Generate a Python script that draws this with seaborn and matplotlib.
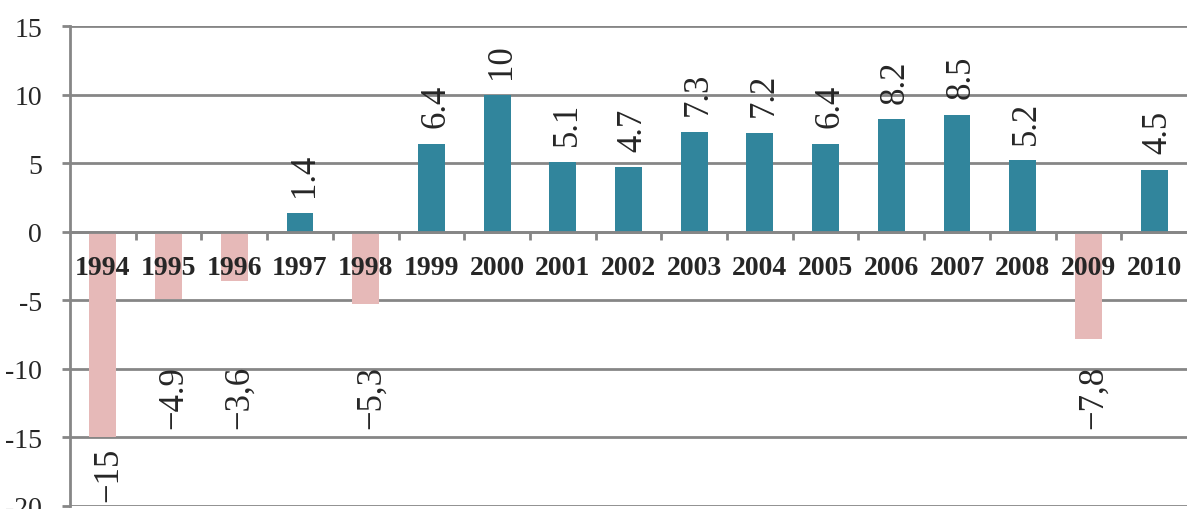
import numpy as np
import pandas as pd
import matplotlib
matplotlib.use("Agg")
import matplotlib.pyplot as plt
import seaborn as sns

years = ["1994", "1995", "1996", "1997", "1998", "1999", "2000", "2001", "2002",
         "2003", "2004", "2005", "2006", "2007", "2008", "2009", "2010"]
growth = [-15, -4.9, -3.6, 1.4, -5.3, 6.4, 10, 5.1, 4.7, 7.3, 7.2, 6.4, 8.2, 8.5, 5.2, -7.8, 4.5]
value_labels = ["\u221215", "\u22124.9", "\u22123,6", "1.4", "\u22125,3", "6.4", "10", "5.1", "4.7",
                "7.3", "7.2", "6.4", "8.2", "8.5", "5.2", "\u22127,8", "4.5"]
y_ticks = [-20, -15, -10, -5, 0, 5, 10, 15]

df = pd.DataFrame({"year": years, "growth": growth})
df["sign"] = np.where(df["growth"] >= 0, "pos", "neg")

sns.set_style("white")
plt.rcParams["font.family"] = ["Liberation Serif", "DejaVu Serif"]

grid_col = "#868686"
fig = plt.figure(figsize=(11.87, 5.10), dpi=100)
ax = fig.add_axes([70 / 1187, 1 - 507 / 510, 1 - 70 / 1187, 480 / 510])

# gridlines drawn behind the bars, axis (tick labels) drawn above them
for t in y_ticks:
    ax.axhline(t, color=grid_col, linewidth=2, zorder=0.5)

sns.barplot(data=df, x="year", y="growth", hue="sign", dodge=False, width=0.41,
            palette={"pos": "#31859C", "neg": "#E6B9B8"}, legend=False, ax=ax,
            zorder=1, saturation=1, linewidth=0)

ax.set_axisbelow(False)
ax.set_ylim(-20, 15)
ax.set_xlim(-0.5, len(years) - 0.5)
ax.set_yticks(y_ticks)
ax.set_yticklabels([str(t) for t in y_ticks], fontsize=20)
ax.grid(False)
ax.set_xlabel("")
ax.set_ylabel("")

for side in ["top", "right"]:
    ax.spines[side].set_visible(False)
ax.spines["left"].set_color(grid_col)
ax.spines["left"].set_linewidth(2)
ax.spines["bottom"].set_position(("data", 0))
ax.spines["bottom"].set_color(grid_col)
ax.spines["bottom"].set_linewidth(2)

ax.tick_params(axis="y", left=True, length=6, width=2, color=grid_col, pad=14)
ax.set_xticks(range(len(years)))
ax.set_xticklabels(years, fontsize=20, fontweight="bold")
ax.set_xticks(np.arange(0.5, len(years) - 1, 1), minor=True)
ax.tick_params(axis="x", which="major", length=0, pad=17)
ax.tick_params(axis="x", which="minor", bottom=True, length=6, width=2, color=grid_col, direction="out")

for i, (v, lab) in enumerate(zip(growth, value_labels)):
    if v >= 0:
        ax.annotate(lab, (i, v), xytext=(3, 12), textcoords="offset points",
                    rotation=90, ha="center", va="bottom", fontsize=25)
    else:
        ax.annotate(lab, (i, min(v - 0.7, -9.7)), xytext=(4, 0), textcoords="offset points",
                    rotation=90, ha="center", va="top", fontsize=25)

fig.savefig("out.png", dpi=100)
